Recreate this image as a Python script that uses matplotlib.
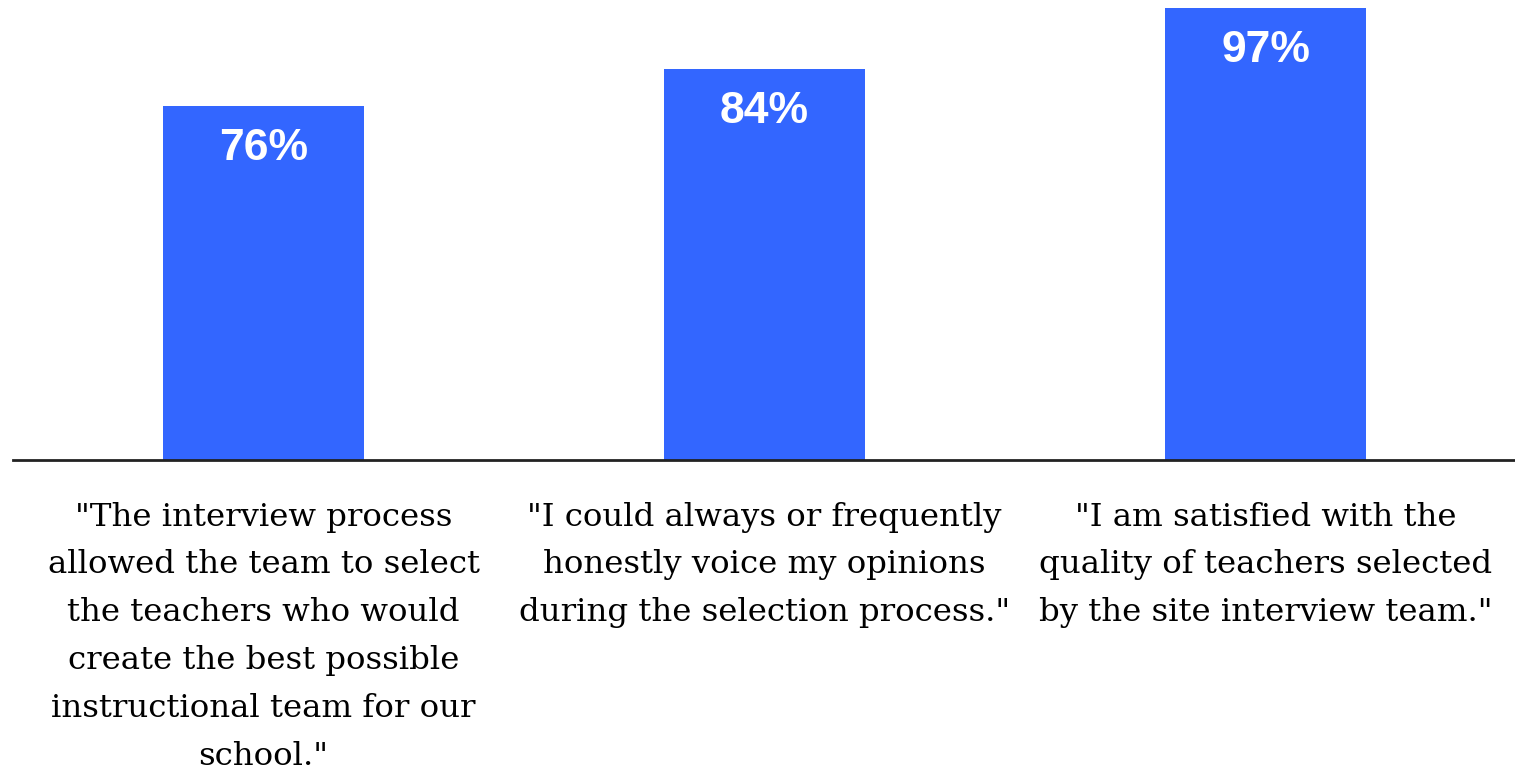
import matplotlib.pyplot as plt

# data
labels = [
    '"The interview process\nallowed the team to select\nthe teachers who would\ncreate the best possible\ninstructional team for our\nschool."',
    '"I could always or frequently\nhonestly voice my opinions\nduring the selection process."',
    '"I am satisfied with the\nquality of teachers selected\nby the site interview team."',
]
values = [76, 84, 97]

bar_color = '#3366FF'

fig = plt.figure(figsize=(15.15, 7.8), dpi=100)
ax = fig.add_axes([13 / 1515, 320 / 780, 1503 / 1515, 460 / 780])

x = list(range(len(values)))
bars = ax.bar(x, values, width=0.4, color=bar_color)

for xi, v in zip(x, values):
    ax.text(xi, v - 9.2, '%d%%' % v, ha='center', va='center',
            color='white', fontsize=32, fontweight='bold',
            family=['Liberation Sans', 'DejaVu Sans'])

ax.set_xlim(-0.5, 2.5)
ax.set_ylim(0, 98.7)
ax.set_yticks([])
ax.set_xticks(x)
ax.set_xticklabels(labels, fontsize=23.3, family=['DejaVu Serif'],
                   linespacing=1.7, va='top')
ax.tick_params(axis='x', length=0, pad=30)

for s in ['top', 'right', 'left']:
    ax.spines[s].set_visible(False)
ax.spines['bottom'].set_linewidth(2)
ax.spines['bottom'].set_color('#222222')

fig.savefig('out.png', dpi=100)
